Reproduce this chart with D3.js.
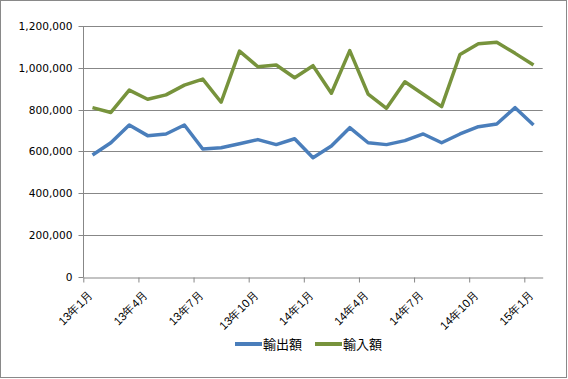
<!DOCTYPE html>
<html><head><meta charset="utf-8">
<script src="https://cdn.jsdelivr.net/npm/d3@7"></script>
<style>
html,body{margin:0;padding:0;background:#fff;}
svg{display:block;font-family:"Noto Sans CJK JP","Noto Sans",sans-serif;}
</style></head>
<body>
<svg id="c" width="568" height="379"></svg>
<script>
const months = ["13年1月","13年2月","13年3月","13年4月","13年5月","13年6月","13年7月","13年8月","13年9月","13年10月","13年11月","13年12月",
"14年1月","14年2月","14年3月","14年4月","14年5月","14年6月","14年7月","14年8月","14年9月","14年10月","14年11月","14年12月","15年1月"];
const exports_ = [582000,641000,726000,675000,683000,726000,611000,617000,636000,656000,632000,660000,
569000,625000,713000,641000,632000,651000,683000,641000,683000,718000,731000,809000,726000];
const imports_ = [809000,786000,893000,849000,870000,917000,946000,835000,1080000,1005000,1013000,952000,
1010000,878000,1082000,874000,806000,933000,873000,814000,1064000,1115000,1122000,1069000,1013000];
const tickLabels = ["13年1月","13年4月","13年7月","13年10月","14年1月","14年4月","14年7月","14年10月","15年1月"];
const yTicks = [0,200000,400000,600000,800000,1000000,1200000];
const seriesNames = ["輸出額","輸入額"];
const colors = ["#4a7ebb","#77933c"];

const svg = d3.select("#c");
svg.append("rect").attr("x",0.5).attr("y",0.5).attr("width",566).attr("height",377)
  .attr("fill","#fff").attr("stroke","#898989");

const x = d3.scaleLinear().domain([0, months.length]).range([83.3, 542.7]);
const y = d3.scaleLinear().domain([0, 1200000]).range([276.6, 26]);

// gridlines
svg.append("g").selectAll("line").data(yTicks.filter(d=>d>0)).join("line")
  .attr("x1",x(0)).attr("x2",x(months.length))
  .attr("y1",d=>Math.round(y(d))+0.5).attr("y2",d=>Math.round(y(d))+0.5)
  .attr("stroke","#878787").attr("stroke-width",1);

// y axis
const ya = svg.append("g").attr("transform",`translate(${Math.round(x(0))+0.5},0)`)
  .call(d3.axisLeft(y).tickValues(yTicks).tickFormat(d3.format(",")).tickSize(5).tickPadding(6));
ya.selectAll("path,line").attr("stroke","#878787");
ya.selectAll("text").attr("font-size","10.6px").attr("fill","#000")
  .attr("font-family","'DejaVu Sans',sans-serif");
ya.selectAll(".tick").attr("transform",d=>`translate(0,${Math.round(y(d))+0.5})`);
ya.select(".domain").attr("d",`M-0,${y(1200000)}V${Math.round(y(0))+0.5}`);

// x axis
const tickIdx = tickLabels.map(l=>months.indexOf(l));
const xa = svg.append("g").attr("transform",`translate(0,${Math.round(y(0))+0.5})`)
  .call(d3.axisBottom(x).tickValues(tickIdx).tickFormat(i=>months[i]).tickSize(5).tickSizeOuter(0));
xa.selectAll("path,line").attr("stroke","#878787");
xa.selectAll("text").attr("font-size","11.5px").attr("fill","#000")
  .attr("text-anchor","end").attr("dy",0).attr("y",0)
  .attr("transform","translate(10,18) rotate(-45)");

// lines
const line = d3.line().x((d,i)=>x(i+0.5)).y(d=>y(d));
[exports_, imports_].forEach((s,k)=>{
  svg.append("path").datum(s).attr("d",line).attr("fill","none")
    .attr("stroke",colors[k]).attr("stroke-width",3.5).attr("stroke-linejoin","round");
});

// legend
const lg = svg.append("g");
const lx = [235, 315];
seriesNames.forEach((n,k)=>{
  lg.append("line").attr("x1",lx[k]).attr("x2",lx[k]+27).attr("y1",344).attr("y2",344)
    .attr("stroke",colors[k]).attr("stroke-width",4);
  lg.append("text").attr("x",lx[k]+28).attr("y",348.5).attr("font-size","13px").text(n);
});
</script>
</body></html>
